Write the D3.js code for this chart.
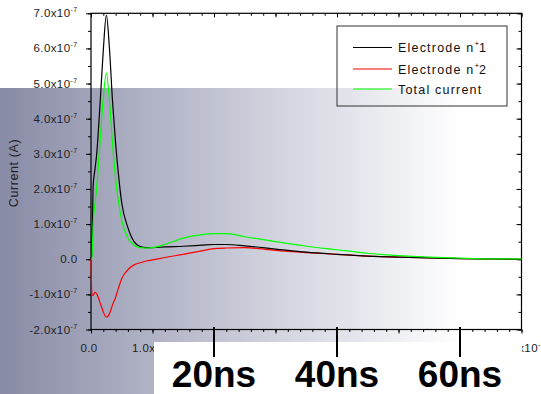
<!DOCTYPE html>
<html>
  <head>
    <meta charset="utf-8">
    <style>
      body { margin: 0; background: #fff; }
      text { font-family: "Liberation Sans", Arial, sans-serif; }
    </style>
    <script src="https://cdnjs.cloudflare.com/ajax/libs/d3/7.8.5/d3.min.js"></script>
  </head>
  <body>
    <svg width="541" height="394" id="SVG"></svg>
    <script>
      // time in ns, currents in units of 1e-7 A
      var timeNs = [0, 0.15, 0.35, 0.6, 0.9, 1.5, 2.0, 2.5, 3.0, 3.5, 4.0, 4.5, 5, 6, 7, 8, 9, 10, 12, 15, 18, 20, 22, 25, 30, 35, 40, 45, 50, 55, 60, 65, 70];
      var electrode1 = [0, 0.2, 2.1, 2.5, 2.95, 4.5, 5.95, 6.95, 6.0, 4.5, 3.3, 2.35, 1.6, 0.9, 0.5, 0.36, 0.33, 0.33, 0.35, 0.37, 0.4, 0.42, 0.42, 0.38, 0.29, 0.2, 0.14, 0.09, 0.06, 0.04, 0.02, 0.01, 0.0];
      var electrode2 = [0, -1.0, -1.03, -0.94, -0.98, -1.25, -1.5, -1.65, -1.55, -1.3, -1.08, -0.8, -0.55, -0.3, -0.16, -0.1, -0.05, -0.02, 0.05, 0.14, 0.24, 0.3, 0.32, 0.33, 0.25, 0.19, 0.14, 0.09, 0.06, 0.04, 0.02, 0.01, 0.0];
      var totalCurrent = [0, 0.0, 1.0, 1.5, 2.0, 3.4, 4.6, 5.3, 4.5, 3.3, 2.3, 1.6, 1.1, 0.6, 0.4, 0.33, 0.32, 0.33, 0.42, 0.6, 0.7, 0.73, 0.73, 0.64, 0.5, 0.37, 0.27, 0.17, 0.1, 0.06, 0.03, 0.01, 0.01];

      var xMajor = [0, 10, 20, 30, 40, 50, 60, 70];
      var yMajor = [-2, -1, 0, 1, 2, 3, 4, 5, 6, 7];
      var nsMarks = [20, 40, 60];
      var nsLabels = ["20ns", "40ns", "60ns"];

      var seriesNames = ["Electrode n", "Electrode n", "Total current"];
      var seriesSup = ["+", "+", ""];
      var seriesSuffix = ["1", "2", ""];
      var seriesColors = ["#000000", "#ff0000", "#00ff00"];

      var svg = d3.select("#SVG");

      var plotLeft = 91, plotRight = 521.5, plotTop = 13.3, plotBottom = 329.5;

      var x = d3.scaleLinear().domain([0, 70]).range([plotLeft, plotRight]);
      var y = d3.scaleLinear().domain([-2, 7]).range([plotBottom, plotTop]);

      // background gradient panel
      var defs = svg.append("defs");
      var grad = defs.append("linearGradient").attr("id", "bg")
                     .attr("x1", "0%").attr("x2", "100%").attr("y1", "0%").attr("y2", "0%");
      grad.append("stop").attr("offset", "0%").attr("stop-color", "#888ba6");
      grad.append("stop").attr("offset", "45%").attr("stop-color", "#c9cbd8");
      grad.append("stop").attr("offset", "85%").attr("stop-color", "#ffffff");
      grad.append("stop").attr("offset", "100%").attr("stop-color", "#ffffff");

      svg.append("rect").attr("x", 0).attr("y", 88).attr("width", 541).attr("height", 306)
         .attr("fill", "url(#bg)");

      // axes
      var minorX = d3.range(0, 70.01, 2);
      var minorY = d3.range(-2, 7.01, 0.5);

      function axisG(axis, tx, ty) {
        var g = svg.append("g").attr("transform", "translate(" + tx + "," + ty + ")").call(axis);
        g.select(".domain").remove();
        g.selectAll("line").attr("stroke", "#000").attr("stroke-width", 1);
        return g;
      }

      axisG(d3.axisLeft(y).tickValues(yMajor).tickSize(5).tickFormat(""), plotLeft, 0);
      axisG(d3.axisLeft(y).tickValues(minorY).tickSize(3).tickFormat(""), plotLeft, 0);
      axisG(d3.axisRight(y).tickValues(yMajor).tickSize(-5).tickFormat(""), plotRight, 0);
      axisG(d3.axisRight(y).tickValues(minorY).tickSize(-3).tickFormat(""), plotRight, 0);
      axisG(d3.axisBottom(x).tickValues(xMajor).tickSize(4).tickFormat(""), 0, plotBottom);
      axisG(d3.axisBottom(x).tickValues(minorX).tickSize(2.5).tickFormat(""), 0, plotBottom);
      axisG(d3.axisTop(x).tickValues(xMajor).tickSize(-4).tickFormat(""), 0, plotTop);
      axisG(d3.axisTop(x).tickValues(minorX).tickSize(-2.5).tickFormat(""), 0, plotTop);

      svg.append("rect").attr("x", plotLeft).attr("y", plotTop)
         .attr("width", plotRight - plotLeft).attr("height", plotBottom - plotTop)
         .attr("fill", "none").attr("stroke", "#000").attr("stroke-width", 1.2);

      // tick labels
      function sciLabel(sel, mant, exp) {
        if (mant === 0) { sel.text("0.0"); return; }
        sel.append("tspan").text(mant.toFixed(1) + "x10");
        sel.append("tspan").attr("dy", -5).attr("font-size", 7).text(exp);
      }

      svg.selectAll(".ylab").data(yMajor).enter().append("text")
         .attr("class", "ylab")
         .attr("x", 77.5).attr("y", function(d) { return y(d) + 4; })
         .attr("text-anchor", "end").attr("font-size", 11.5).attr("letter-spacing", 0.4)
         .attr("fill", "#222")
         .each(function(d) { sciLabel(d3.select(this), d, "-7"); });

      svg.selectAll(".xlab").data(xMajor).enter().append("text")
         .attr("class", "xlab")
         .attr("x", function(d) { return d === 0 ? x(d) - 2 : x(d) + 1.5; }).attr("y", 352)
         .attr("text-anchor", "middle").attr("font-size", 11.5).attr("letter-spacing", 0.4)
         .attr("fill", "#222")
         .each(function(d) { sciLabel(d3.select(this), d / 10, "-8"); });

      svg.append("text")
         .attr("transform", "translate(18," + 173 + ") rotate(-90)")
         .attr("text-anchor", "middle").attr("font-size", 12.5).attr("letter-spacing", 0.6)
         .attr("fill", "#222").text("Current (A)");

      // curves
      var series = [electrode1, electrode2, totalCurrent];
      var line = d3.line()
                   .x(function(d, i) { return x(timeNs[i]); })
                   .y(function(d) { return y(d); })
                   .curve(d3.curveMonotoneX);

      svg.selectAll(".curve").data([electrode2, electrode1, totalCurrent]).enter().append("path")
         .attr("class", "curve")
         .attr("d", line)
         .attr("fill", "none")
         .attr("stroke", function(d) { return seriesColors[series.indexOf(d)]; })
         .attr("stroke-width", 1.2);

      // legend
      var lg = svg.append("g");
      lg.append("rect").attr("x", 337).attr("y", 26).attr("width", 170).attr("height", 80)
        .attr("fill", "none").attr("stroke", "#333").attr("stroke-width", 1);
      seriesNames.forEach(function(name, i) {
        var ly = [47.5, 69, 89][i];
        lg.append("line").attr("x1", 353).attr("x2", 392).attr("y1", ly).attr("y2", ly)
          .attr("stroke", seriesColors[i]).attr("stroke-width", 1.2);
        var t = lg.append("text").attr("x", 398).attr("y", ly + 4.5)
                  .attr("font-size", 12.5).attr("letter-spacing", 1.2).attr("fill", "#111");
        t.append("tspan").text(name);
        if (seriesSup[i]) {
          t.append("tspan").attr("dy", -6).attr("font-size", 8).attr("letter-spacing", 0).text(seriesSup[i]);
          t.append("tspan").attr("dy", 6).text(seriesSuffix[i]);
        }
      });

      // ns annotation overlay
      svg.append("rect").attr("x", 154).attr("y", 342).attr("width", 368).attr("height", 52)
         .attr("fill", "#fff");

      svg.selectAll(".nstick").data(nsMarks).enter().append("line")
         .attr("class", "nstick")
         .attr("x1", function(d) { return x(d); }).attr("x2", function(d) { return x(d); })
         .attr("y1", 327).attr("y2", 357)
         .attr("stroke", "#000").attr("stroke-width", 2);

      svg.selectAll(".nslab").data(nsMarks).enter().append("text")
         .attr("class", "nslab")
         .attr("x", function(d) { return x(d); }).attr("y", 386.5)
         .attr("text-anchor", "middle").attr("font-size", 37).attr("font-weight", "bold")
         .attr("fill", "#000")
         .text(function(d, i) { return nsLabels[i]; });
    </script>
  </body>
</html>
